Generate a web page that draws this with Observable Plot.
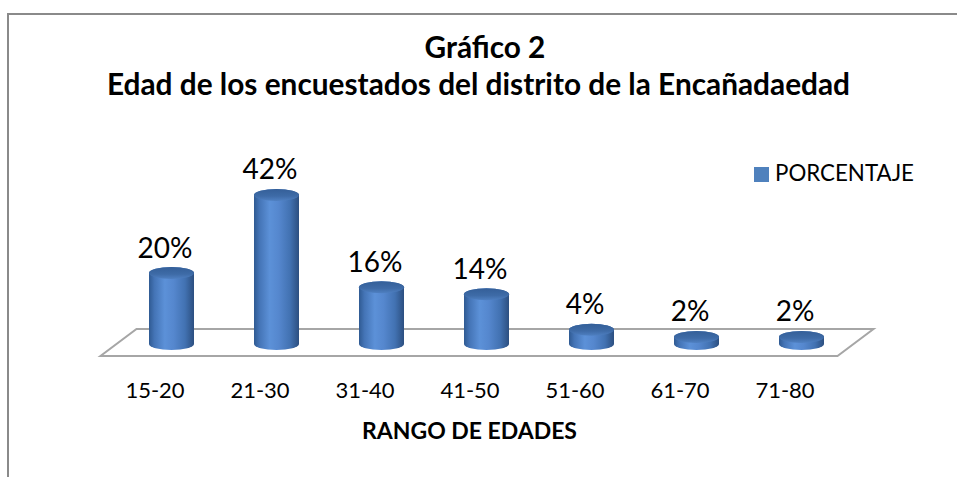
<!DOCTYPE html>
<html>
<head>
<meta charset="utf-8">
<script src="https://cdn.jsdelivr.net/npm/d3@7"></script>
<script src="https://cdn.jsdelivr.net/npm/@observablehq/plot@0.6"></script>
<style>
  html, body { margin: 0; padding: 0; background: #fff; width: 957px; height: 477px; overflow: hidden; }
  #chart svg { display: block; }
</style>
</head>
<body>
<div id="chart"></div>
<script>
// ---- data ----
const categories = ["15-20", "21-30", "31-40", "41-50", "51-60", "61-70", "71-80"];
const values = [20, 42, 16, 14, 4, 2, 2];
const valueLabels = ["20%", "42%", "16%", "14%", "4%", "2%", "2%"];
const seriesName = "PORCENTAJE";
const titleLines = ["Gráfico 2", "Edad de los encuestados del distrito de la Encañadaedad"];
const xTitle = "RANGO DE EDADES";

const FONT = "Lato, 'Liberation Sans', sans-serif";
const W = 957, H = 477;
const RY = 6;

const data = categories.map((cat, i) => ({cat, v: values[i], label: valueLabels[i]}));

// floor (parallelogram) drawn from the scales
const floorMark = (index, scales) => {
  const x = scales.x, y = scales.y;
  const bw = typeof x.bandwidth === "function" ? x.bandwidth() : 45;
  const y0 = y(0);
  const bl = x(categories[0]) - 12.5;
  const br = x(categories[categories.length - 1]) + bw + 49.5;
  const by = y0 - 15, fy = y0 + 12, off = -36;
  return d3.create("svg:path")
    .attr("d", `M${bl},${by}L${br},${by}L${br + off},${fy}L${bl + off},${fy}Z`)
    .attr("fill", "none")
    .attr("stroke", "#a6a6a6")
    .attr("stroke-width", 2)
    .node();
};

const chart = Plot.plot({
  width: W,
  height: H,
  marginLeft: 117,
  marginRight: 101,
  marginTop: 166.5,
  marginBottom: 133,
  style: {fontFamily: FONT, fontSize: "22px", background: "transparent", color: "#000", overflow: "visible"},
  x: {type: "band", domain: categories, paddingInner: 0.573, paddingOuter: 0.2865, align: 0.5, axis: null, label: null},
  y: {domain: [0, 50], axis: null, label: null},
  marks: [
    floorMark,
    // cylinder body
    Plot.barY(data, {x: "cat", y1: 0, y2: "v", fill: "url(#cylBody)", rx: 30, ry: RY, insetTop: -RY, insetBottom: -RY}),
    // cylinder top ellipse
    Plot.barY(data, {x: "cat", y1: "v", y2: "v", fill: "url(#cylTop)", rx: 30, ry: RY, insetTop: -RY, insetBottom: -RY}),
    // value labels
    Plot.text(data, {x: "cat", y: "v", text: "label", dx: -7, dy: -RY - 10, lineAnchor: "bottom", fontSize: 28, fill: "#000"}),
    Plot.axisX({tickSize: 0, tickPadding: 38, fontSize: 22, dx: -17, fill: "#000", label: null})
  ]
});

document.getElementById("chart").appendChild(chart);

const svg = d3.select(chart);
const defs = svg.insert("defs", ":first-child");
const gb = defs.append("linearGradient").attr("id", "cylBody").attr("x1", 0).attr("x2", 1).attr("y1", 0).attr("y2", 0);
[["0%", "#2f5a92"], ["12%", "#4474b6"], ["35%", "#5c91d8"], ["55%", "#5587ce"], ["80%", "#4272b2"], ["100%", "#2c4f80"]]
  .forEach(([o, c]) => gb.append("stop").attr("offset", o).attr("stop-color", c));
const gt = defs.append("linearGradient").attr("id", "cylTop").attr("x1", 0).attr("x2", 0).attr("y1", 0).attr("y2", 1);
[["0%", "#345f98"], ["60%", "#3e6ba7"], ["100%", "#4f80c2"]]
  .forEach(([o, c]) => gt.append("stop").attr("offset", o).attr("stop-color", c));

// chart border (left and top visible)
svg.append("path").attr("d", `M8,${H}V14H${W}`).attr("fill", "none").attr("stroke", "#8a8a8a").attr("stroke-width", 2);

function addText(str, x, baseline, size, weight, anchor) {
  return svg.append("text").text(str)
    .attr("x", x).attr("y", baseline)
    .attr("text-anchor", anchor)
    .attr("font-family", FONT)
    .attr("font-weight", weight)
    .attr("font-size", size)
    .attr("fill", "#000");
}
function fitText(str, x, baseline, targetW, weight, anchor) {
  const t = addText(str, x, baseline, 20, weight, anchor);
  const w = t.node().getComputedTextLength();
  const size = w > 0 ? 20 * targetW / w : 20;
  t.attr("font-size", size.toFixed(2));
  return size;
}

const titleSize = fitText(titleLines[1], 478.5, 95, 743, "bold", "middle");
addText(titleLines[0], 485, 58, titleSize.toFixed(2), "bold", "middle");
fitText(xTitle, 469.5, 439, 215, "bold", "middle");

// legend
svg.append("rect").attr("x", 754).attr("y", 167).attr("width", 15).attr("height", 15).attr("fill", "#4f81bd");
fitText(seriesName, 775, 181, 139, "normal", "start");
</script>
</body>
</html>
